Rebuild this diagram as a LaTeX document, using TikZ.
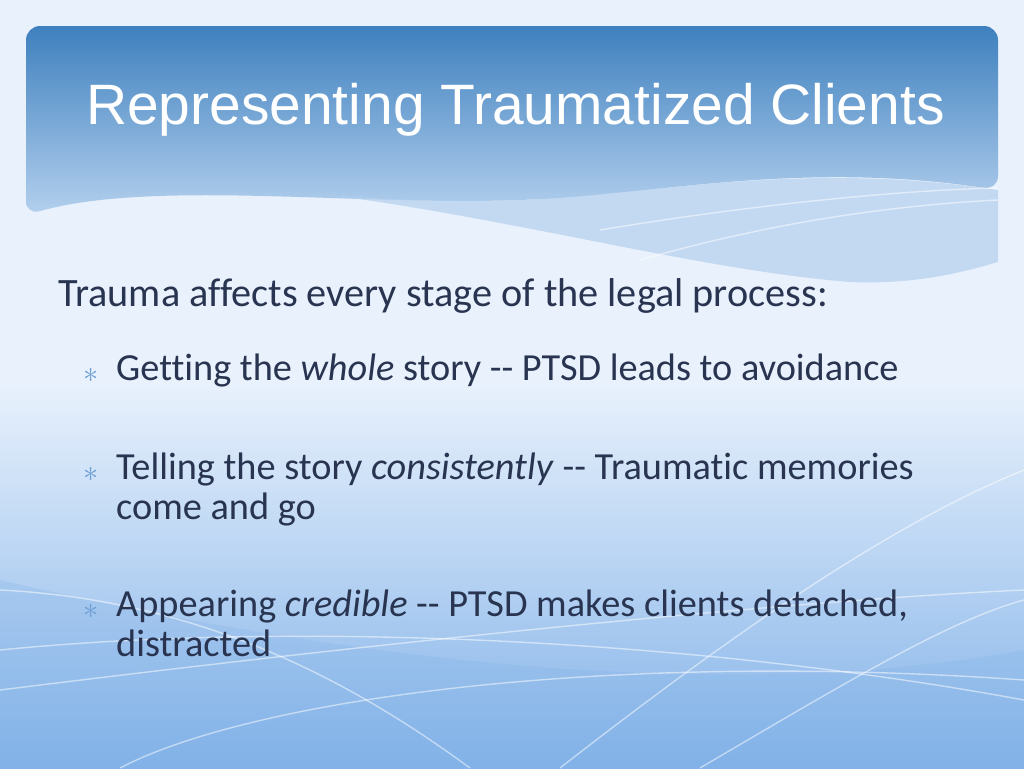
\documentclass[tikz,border=0pt]{standalone}
\usepackage{fontspec}
\setmainfont[Ligatures=CommonOff]{Carlito}
\newfontfamily\titlefont{Liberation Sans}
\definecolor{bgtop}{RGB}{232,241,252}
\definecolor{bgbot}{RGB}{130,178,232}
\definecolor{headtop}{RGB}{62,128,190}
\definecolor{headbot}{RGB}{180,208,238}
\definecolor{bodytext}{RGB}{40,52,80}
\definecolor{bulletcol}{RGB}{110,160,215}
\tikzset{
  bodyline/.style={font=\fontsize{21.8}{22.5}\selectfont,text=bodytext,anchor=north west,align=left},
  bulletmark/.style={font=\fontsize{16}{16}\selectfont,text=bulletcol,anchor=north east},
  swirl/.style={white,opacity=0.5,line width=0.8pt}
}
\begin{document}
\begin{tikzpicture}[x=0.02cm,y=-0.02cm]
  \useasboundingbox (0,0) rectangle (1024,768);
  % background
  \fill[bgtop] (0,0) rectangle (1024,384);
  \shade[top color=bgtop,bottom color=bgbot] (0,384) rectangle (1024,768);
  \fill[bgbot,opacity=0.25] (0,768) -- (0,580) .. controls (300,650) and (700,710) .. (1024,650) -- (1024,768) -- cycle;
  % header band
  \shade[top color=headtop,bottom color=headbot,rounded corners=8]
    (26,215) -- (26,26) -- (998,26) -- (998,190)
    .. controls (800,160) and (650,195) .. (520,200)
    .. controls (350,205) and (150,180) .. (26,215) -- cycle;
  \fill[headbot,opacity=0.7] (330,195) .. controls (520,220) and (700,270) .. (850,282)
    .. controls (920,285) and (970,270) .. (998,262) -- (998,190)
    .. controls (800,160) and (650,195) .. (520,200) .. controls (450,202) and (390,200) .. (330,195) -- cycle;
  \draw[swirl] (600,230) .. controls (750,205) and (900,190) .. (998,188);
  \draw[swirl] (640,260) .. controls (780,220) and (900,205) .. (998,200);
  % swirl lines below
  \draw[swirl] (0,590) .. controls (200,600) and (350,680) .. (470,768);
  \draw[swirl] (0,650) .. controls (300,620) and (700,640) .. (1024,700);
  \draw[swirl] (0,690) .. controls (400,640) and (800,600) .. (1024,590);
  \draw[swirl] (700,768) .. controls (850,680) and (950,620) .. (1024,600);
  \draw[swirl] (560,768) .. controls (750,620) and (900,520) .. (1024,470);
  \draw[swirl] (120,768) .. controls (250,700) and (600,650) .. (1024,680);
  % title
  \node[anchor=west,text=white,font=\titlefont\fontsize{32.4}{36}\selectfont] (title) at (80,110) {Representing Traumatized Clients};
  % body
  \node[bodyline,font=\fontsize{22.9}{24}\selectfont] (intro) at (52,272) {Trauma affects every stage of the legal process:};
  \node[bodyline] (itemA) at (110,348) {Getting the \textit{whole} story -{}- PTSD leads to avoidance};
  \node[bodyline] (itemB) at (110,447) {Telling the story \textit{consistently} -{}- Traumatic memories\\come and go};
  \node[bodyline] (itemC) at (110,584) {Appearing \textit{credible} -{}- PTSD makes clients detached,\\distracted};
  \foreach \n in {itemA,itemB,itemC}
    \node[bulletmark] at ([xshift=-3pt,yshift=-8pt]\n.north west) {$\ast$};
\end{tikzpicture}
\end{document}
